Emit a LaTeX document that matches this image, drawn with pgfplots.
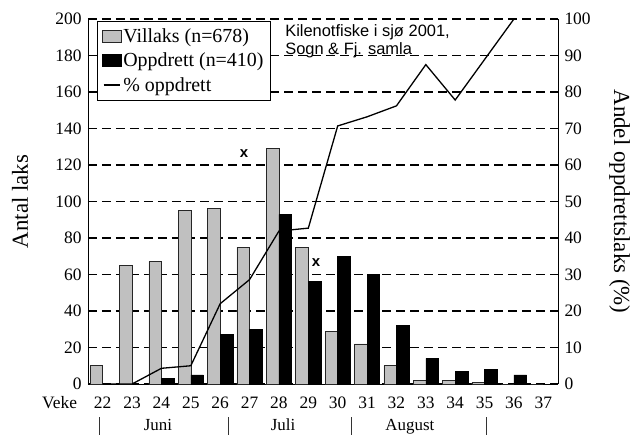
\documentclass[border=0pt]{standalone}
\usepackage{fontspec}
\setmainfont{Liberation Serif}
\newfontfamily\arial{Liberation Sans}
\usepackage{pgfplots}
\pgfplotsset{compat=1.18}
\definecolor{barGray}{RGB}{192,192,192}
\pgfplotsset{
  base/.style={width=470bp, height=365bp, scale only axis, at={(0,0)}, anchor=south west,
    xmin=21.5, xmax=37.5,
    /pgf/number format/assume math mode=true,
    tick label style={font=\fontsize{17.5}{20}\selectfont},
    label style={font=\fontsize{23}{26}\selectfont},
    axis line style={black, line width=0.9bp},
    clip=false},
}
\begin{document}
\begin{tikzpicture}
\begin{axis}[base,
  ymin=0, ymax=200, ytick={0,20,...,200},
  axis x line*=bottom, axis y line*=left,
  xtick={22,...,37},
  xtick style={draw=none},
  xticklabel style={anchor=base, yshift=-24bp},
  ytick style={draw=none},
  yticklabel style={xshift=-3bp},
  ymajorgrids,
  grid style={black, line width=1.1bp, dash pattern=on 9bp off 5bp},
  ylabel={Antal laks},
  ylabel style={at={(axis description cs:-0.1447,0.5)}, anchor=center},
  legend style={at={(axis description cs:0.019,0.995)}, anchor=north west,
    draw=black, line width=0.6bp, fill=white,
    font=\fontsize{20}{22}\selectfont,
    inner xsep=5bp, inner ysep=3bp,
    nodes={inner xsep=1.5bp, inner ysep=4.5bp},
    row sep=0bp},
  legend cell align=left,
]
\addplot[ybar, bar width=0.43, bar shift=-0.215, fill=barGray, draw=black!85, line width=0.6bp,
  legend image code/.code={\draw[fill=barGray, draw=black!85, line width=0.6bp] (0bp,-6bp) rectangle (19bp,6bp);}]
  coordinates {(22,10) (23,65) (24,67) (25,95) (26,96) (27,75) (28,129) (29,75)
               (30,29) (31,22) (32,10) (33,2) (34,2) (35,1) (36,0) (37,0)};
\addplot[ybar, bar width=0.43, bar shift=0.215, fill=black, draw=black, line width=0.6bp,
  legend image code/.code={\draw[fill=black, draw=black] (0bp,-6bp) rectangle (19bp,6bp);}]
  coordinates {(22,0) (23,0) (24,3) (25,5) (26,27) (27,30) (28,93) (29,56)
               (30,70) (31,60) (32,32) (33,14) (34,7) (35,8) (36,5) (37,0)};
\addlegendimage{legend image code/.code={\draw[black, line width=1.3bp] (1bp,0bp) -- (17bp,0bp);}}
\legend{Villaks (n=678), Oppdrett (n=410), \% oppdrett}
% annotations
\node[anchor=west, align=left, inner sep=0pt, font=\arial\fontsize{16.5}{18}\selectfont]
  at (axis cs:28.21,188) {Kilenotfiske i sjø 2001,\\Sogn \& Fj. samla};
\node[font=\arial\bfseries\fontsize{15}{15}\selectfont] at (axis cs:26.81,126) {x};
\node[font=\arial\bfseries\fontsize{15}{15}\selectfont] at (axis cs:29.26,66.3) {x};
\node[anchor=base, font=\fontsize{17.5}{20}\selectfont] at (axis description cs:-0.0604,0) [yshift=-24bp] {Veke};
\node[anchor=base, font=\fontsize{17}{20}\selectfont] at (axis cs:23.88,0) [yshift=-46.5bp] {Juni};
\node[anchor=base, font=\fontsize{17}{20}\selectfont] at (axis cs:28.14,0) [yshift=-46.5bp] {Juli};
\node[anchor=base, font=\fontsize{17}{20}\selectfont] at (axis cs:32.46,0) [yshift=-46.5bp] {August};
\draw[black!80, line width=0.8bp] ([yshift=-33bp]axis cs:21.9,0) -- ([yshift=-52bp]axis cs:21.9,0);
\draw[black!80, line width=0.8bp] ([yshift=-33bp]axis cs:26.27,0) -- ([yshift=-52bp]axis cs:26.27,0);
\draw[black!80, line width=0.8bp] ([yshift=-33bp]axis cs:30.45,0) -- ([yshift=-52bp]axis cs:30.45,0);
\draw[black!80, line width=0.8bp] ([yshift=-33bp]axis cs:35.05,0) -- ([yshift=-52bp]axis cs:35.05,0);
\end{axis}
\begin{axis}[base,
  ymin=0, ymax=100, ytick={0,10,...,100},
  axis x line=none, axis y line*=right,
  ytick style={draw=none},
  yticklabel style={xshift=3bp},
  ylabel={Andel oppdrettslaks (\%)},
  ylabel style={at={(axis description cs:1.131,0.5)}, anchor=center, rotate=180},
]
\addplot[black, line width=1.3bp, mark=none] coordinates {
  (22,0) (23,0) (24,4.3) (25,5.0) (26,22.0) (27,28.6) (28,41.9) (29,42.7)
  (30,70.7) (31,73.2) (32,76.2) (33,87.5) (34,77.8) (35,88.9) (36,100)};
\end{axis}
\pgfresetboundingbox
\path (-88bp,-51bp) rectangle (548bp,384bp);
\end{tikzpicture}
\end{document}
